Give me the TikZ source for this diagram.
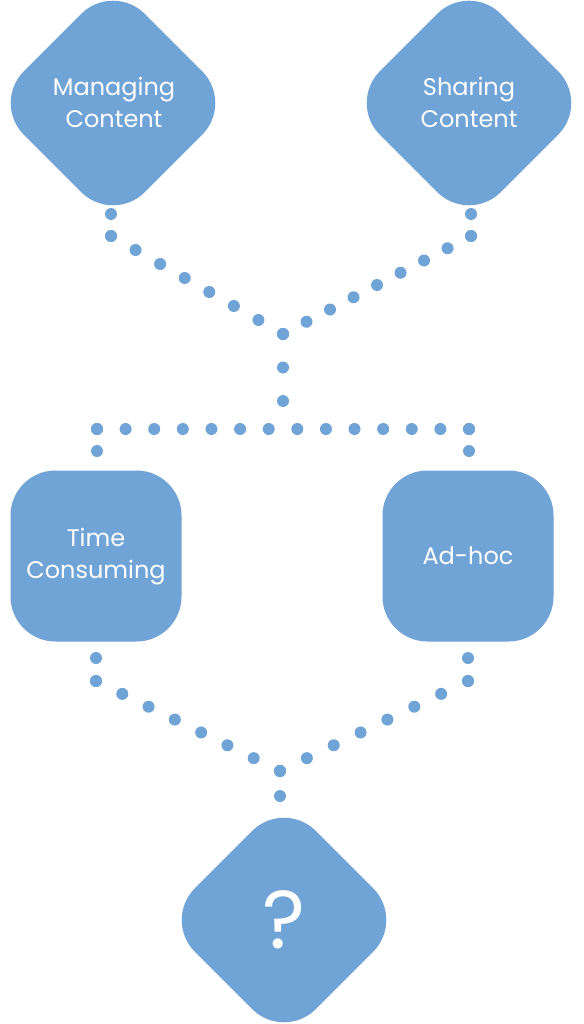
\documentclass[tikz,border=0pt]{standalone}
\usepackage{fontspec}
\setmainfont{Poppins}
\usepackage{tikz}
\usetikzlibrary{calc,positioning}
\definecolor{boxblue}{RGB}{112,163,214}

\tikzset{
  blk/.style={fill=boxblue, rounded corners=45pt, minimum size=171pt, inner sep=0pt},
  dmd/.style={blk, rotate=45},
  lbl/.style={text=white, align=center, font=\fontsize{24}{32}\selectfont},
  dotc/.style={fill=boxblue}
}

\begin{document}
\begin{tikzpicture}[x=1pt, y=-1pt]
        \useasboundingbox (0,0) rectangle (583,1024);
        % Shapes
        \node[dmd] (mc) at (113,103) {};
        \node[dmd] (sc) at (469,103) {};
        \node[blk] (tc) at (96,556) {};
        \node[blk] (ah) at (468,556) {};
        \node[dmd] (qq) at (284,920) {};
        % Labels
        \node[lbl] (mc-t) at (114,102) {Managing\\Content};
        \node[lbl] (sc-t) at (469,102) {Sharing\\Content};
        \node[lbl] (tc-t) at (96,557) {Time\\Consuming};
        \node[lbl] (ah-t) at (ah) {Ad-hoc};
        \node[text=white, font=\fontsize{82}{82}\selectfont] (qq-t) at (qq) {?};
        % Dot ends and junctions
        \coordinate (mc1) at (111,214);
        \coordinate (mc2) at (111,236);
        \coordinate (sc1) at (471,214);
        \coordinate (sc2) at (471,236);
        \coordinate (j1) at (283,334);
        \coordinate (j2) at (283,401);
        \coordinate (h1) at (97,429);
        \coordinate (h2) at (469,429);
        \coordinate (tc0) at (97,451);
        \coordinate (ah0) at (469,451);
        \coordinate (tc1) at (96,658);
        \coordinate (tc2) at (96,681);
        \coordinate (ah1) at (468,658);
        \coordinate (ah2) at (468,681);
        \coordinate (j3) at (280,771);
        \coordinate (j4) at (280,796);
        % Dotted connectors
        \foreach \a/\b/\n in {mc1/mc2/1, mc2/j1/7, sc1/sc2/1, sc2/j1/8, j1/j2/2,
                              h1/h2/13, h1/tc0/1, h2/ah0/1,
                              tc1/tc2/1, tc2/j3/7, ah1/ah2/1, ah2/j3/7, j3/j4/1} {
            \foreach \i in {0,...,\n}
              \fill[dotc] ($(\a)!\i/\n!(\b)$) circle (6);
          }
      \end{tikzpicture}
\end{document}
